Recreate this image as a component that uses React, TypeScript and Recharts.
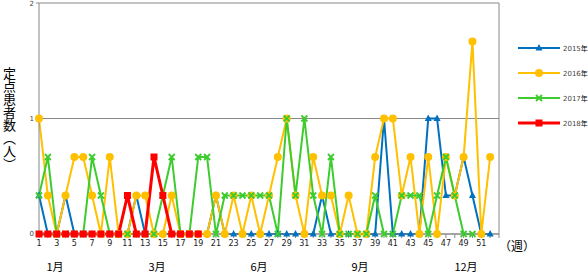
import React from 'react';
import { LineChart, Line, XAxis, YAxis, CartesianGrid, ReferenceLine } from 'recharts';

const t = 1 / 3;
const tt = 2 / 3;

const weeks = Array.from({ length: 53 }, (_, i) => i + 1);
const weekTicks = weeks;

const y2015 = [t, 0, 0, t, 0, 0, 0, 0, 0, 0, 0, t, 0, 0, 0, 0, 0, 0, 0, 0, t, 0, 0, 0, 0, 0, 0, 0, 0, 0, 0, 0, t, 0, 0, 0, 0, 0, 0, 1, 0, 0, 0, 0, 1, 1, t, t, tt, t, 0, 0];
const y2016 = [1, t, 0, t, tt, tt, t, 0, tt, 0, 0, t, t, 0, 0, t, 0, 0, 0, 0, t, 0, t, 0, t, 0, t, tt, 1, t, 0, tt, t, t, 0, t, 0, 0, tt, 1, 1, t, tt, 0, tt, 0, tt, t, tt, 5 / 3, 0, tt];
const y2017 = [t, tt, 0, 0, 0, 0, tt, t, 0, 0, 0, 0, 0, 0, t, tt, 0, 0, tt, tt, 0, t, t, t, t, t, t, 0, 1, t, 1, t, 0, tt, 0, 0, 0, 0, t, 0, 0, t, t, t, 0, t, tt, t, 0, 0];
const y2018 = [0, 0, 0, 0, 0, 0, 0, 0, 0, 0, t, 0, 0, tt, t, 0, 0, 0, 0];

const yTicks = [0, 1, 2];
const months = [
  { label: '1月', x: 55 },
  { label: '3月', x: 157 },
  { label: '6月', x: 259 },
  { label: '9月', x: 360 },
  { label: '12月', x: 466 },
];

const seriesInfo = [
  { key: 'y2015', name: '2015年', color: '#0070C0', shape: 'triangle', width: 2 },
  { key: 'y2016', name: '2016年', color: '#FFC000', shape: 'circle', width: 2 },
  { key: 'y2017', name: '2017年', color: '#3DCC2E', shape: 'cross', width: 2 },
  { key: 'y2018', name: '2018年', color: '#FF0000', shape: 'square', width: 3 },
];

const data = weeks.map((w, i) => ({
  week: w,
  y2015: i < y2015.length ? y2015[i] : null,
  y2016: i < y2016.length ? y2016[i] : null,
  y2017: i < y2017.length ? y2017[i] : null,
  y2018: i < y2018.length ? y2018[i] : null,
}));

const Marker = ({ shape, cx, cy, color }: any) => {
  if (cx == null || cy == null) return null;
  if (shape === 'triangle') {
    return <path d={`M${cx},${cy - 4} L${cx + 3.5},${cy + 2.5} L${cx - 3.5},${cy + 2.5} Z`} fill={color} />;
  }
  if (shape === 'circle') {
    return <circle cx={cx} cy={cy} r={4} fill={color} />;
  }
  if (shape === 'cross') {
    return (
      <path d={`M${cx - 3},${cy - 3} L${cx + 3},${cy + 3} M${cx + 3},${cy - 3} L${cx - 3},${cy + 3}`} stroke={color} strokeWidth={1.8} />
    );
  }
  return <rect x={cx - 3.5} y={cy - 3.5} width={7} height={7} fill={color} />;
};

const LegendBox = () => (
  <div style={{ position: 'absolute', left: 518, top: 35, fontFamily: 'DejaVu Sans, sans-serif', fontSize: 7, color: '#444' }}>
    {seriesInfo.map((s) => (
      <div key={s.key} style={{ display: 'flex', alignItems: 'center', height: 25 }}>
        <svg width={45} height={10}>
          <line x1={0} y1={5} x2={42} y2={5} stroke={s.color} strokeWidth={s.width} />
          <Marker shape={s.shape} cx={21} cy={5} color={s.color} />
        </svg>
        <span>
          {s.name.slice(0, 4)}
          <span style={{ fontFamily: 'Noto Sans CJK JP', color: '#000' }}>年</span>
        </span>
      </div>
    ))}
  </div>
);

const tickLabel = (v: number) => (v % 2 === 1 && v <= 51 ? String(v) : '');

export default function App() {
  return (
    <div style={{ position: 'absolute', left: 0, top: 0, width: 588, height: 273, background: '#fff', overflow: 'hidden' }}>
      <LineChart width={588} height={273} data={data} margin={{ top: 3, right: 89, left: 0, bottom: 0 }}>
        <CartesianGrid vertical={false} stroke="#888" />
        <XAxis
          dataKey="week"
          type="number"
          domain={[1, 53]}
          ticks={weekTicks}
          interval={0}
          tickFormatter={tickLabel}
          height={39}
          stroke="#888"
          tickSize={4}
          tick={{ fontSize: 8, fill: '#222', fontFamily: 'DejaVu Sans, sans-serif' }}
        />
        <YAxis
          domain={[0, 2]}
          ticks={yTicks}
          width={39}
          stroke="#888"
          tickSize={3}
          tick={{ fontSize: 7, fill: '#444', fontFamily: 'DejaVu Sans, sans-serif' }}
        />
        <ReferenceLine x={53} stroke="#888" />
        {seriesInfo.map((s) => (
          <Line
            key={s.key}
            dataKey={s.key}
            name={s.name}
            stroke={s.color}
            strokeWidth={s.width}
            isAnimationActive={false}
            connectNulls={false}
            dot={(p: any) => <Marker key={`${s.key}-${p.index}`} shape={s.shape} cx={p.cx} cy={p.cy} color={s.color} />}
            activeDot={false}
          />
        ))}
      </LineChart>
      <LegendBox />
      <div
        style={{
          position: 'absolute',
          left: 2,
          top: 67,
          writingMode: 'vertical-rl',
          fontFamily: 'Noto Sans CJK JP',
          fontSize: 13,
          lineHeight: '14px',
        }}
      >
        定点患者数（人）
      </div>
      <div style={{ position: 'absolute', left: 499, top: 238, fontFamily: 'Noto Sans CJK JP', fontSize: 12, lineHeight: '16px' }}>
        （週）
      </div>
      {months.map((m) => (
        <div
          key={m.label}
          style={{
            position: 'absolute',
            left: m.x - 30,
            width: 60,
            textAlign: 'center',
            top: 260,
            fontFamily: 'Noto Sans CJK JP',
            fontSize: 11,
            lineHeight: '12px',
          }}
        >
          {m.label}
        </div>
      ))}
    </div>
  );
}
